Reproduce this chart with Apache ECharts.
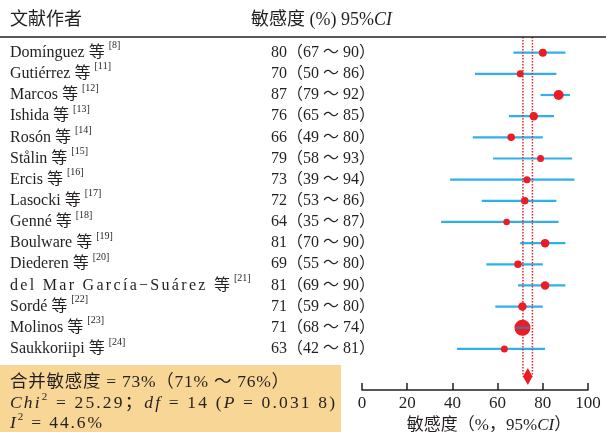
<!DOCTYPE html>
<html><head><meta charset="utf-8">
<script src="https://cdn.jsdelivr.net/npm/echarts@6/dist/echarts.min.js"></script>
<style>html,body{margin:0;padding:0;background:#fff}#c{width:606px;height:432px}</style>
</head><body><div id="c"></div>
<script>
// ---------------- data ----------------
const authors = ['Domínguez','Gutiérrez','Marcos','Ishida','Rosón','Stålin','Ercis','Lasocki','Genné','Boulware','Diederen','del Mar García−Suárez','Sordé','Molinos','Saukkoriipi'];
const refs = [8,11,12,13,14,15,16,17,18,19,20,21,22,23,24];
const sensitivity = [80,70,87,76,66,79,73,72,64,81,69,81,71,71,63];
const ciLow  = [67,50,79,65,49,58,39,53,35,70,55,69,59,68,42];
const ciHigh = [90,86,92,85,80,93,94,86,87,90,80,90,80,74,81];
const weights = [8,7,10,8.5,7.5,7,7,7.5,6.5,8.5,7.5,8.5,8.5,16,7];
const pooled = 73.4, pooledLow = 71.2, pooledHigh = 75.4;
const pooledLabel = ['73%', '71%', '76%'];
const chi2 = '25.29', df = '14', pValue = '0.031 8', i2 = '44.6%';
const xTicks = [0, 20, 40, 60, 80, 100];

// ---------------- styling helpers ----------------
const SERIF = '"Liberation Serif","Noto Sans CJK SC",serif';
const INK = '#231f20';
const ctx = document.createElement('canvas').getContext('2d');
function fontStr(s){ return (s.fontStyle||'normal')+' normal '+s.fontSize+'px '+s.fontFamily; }
let uid = 0;
// segs: [text, style, justify]
function richLine(segs, target){
  const chars = [];
  segs.forEach(([t, st, j]) => { for (const ch of t) chars.push([ch, st, !!j]); });
  const widths = chars.map(([ch, st]) => { ctx.font = fontStr(st); return ctx.measureText(ch).width; });
  let nat = 0, nj = 0, lastJ = -1;
  chars.forEach((c, k) => { if (c[2]) { nat += widths[k]; nj++; lastJ = k; } });
  const sp = (target && nj > 1) ? Math.max(0, (target - nat) / (nj - 1)) : 0;
  const rich = {}; let text = '';
  chars.forEach(([ch, st, j], k) => {
    const name = 't' + (uid++);
    rich[name] = Object.assign({}, st, { width: widths[k] + (j && k !== lastJ ? sp : 0) });
    text += '{' + name + '|' + ch + '}';
  });
  return { text, rich };
}
const N16 = { fontSize: 16, fontFamily: SERIF, fill: INK, lineHeight: 24 };
const S10 = { fontSize: 10, fontFamily: SERIF, fill: INK, lineHeight: 12, verticalAlign: 'top' };
const N17 = { fontSize: 17.5, fontFamily: SERIF, fill: INK, lineHeight: 22 };
const I17 = Object.assign({}, N17, { fontStyle: 'italic' });
const S11 = { fontSize: 11, fontFamily: SERIF, fill: INK, lineHeight: 12, verticalAlign: 'top' };

const nameRich = authors.map((a, i) => {
  if (a.length > 15) return richLine([[a + ' 等', N16, true], [' ', N16], ['[' + refs[i] + ']', S10]], 220);
  return richLine([[a + ' 等 ', N16], ['[' + refs[i] + ']', S10]]);
});
const numText = sensitivity.map((v, i) => v + '（' + ciLow[i] + ' ～ ' + ciHigh[i] + '）');

const line1 = richLine([['合并敏感度 = ' + pooledLabel[0] + '（' + pooledLabel[1] + ' ～ ' + pooledLabel[2] + '）', N17, true]], 279);
const line2 = richLine([['Chi', I17, true], ['2', S11, true], [' = ' + chi2 + '；', N17, true], ['df', I17, true], [' = ' + df + ' (', N17, true], ['P', I17, true], [' = ' + pValue + ')', N17, true]], 325);
const line3 = richLine([['I', I17, true], ['2', S11, true], [' = ' + i2, N17, true]], 92);
const head2 = richLine([['敏感度 (%) 95%', Object.assign({}, N17, {fontSize: 18})], ['CI', Object.assign({}, I17, {fontSize: 18})]]);

const Y_MIN = -0.74, Y_MAX = 15.94, POOLED_ROW = 15.3;
const ciData = ciLow.map((lo, i) => [lo, ciHigh[i], i, weights[i]]);
const ciRender = (color) => (p, api) => {
  const a = api.coord([api.value(0), api.value(2)]);
  const b = api.coord([api.value(1), api.value(2)]);
  return { type: 'line', shape: { x1: a[0], y1: a[1], x2: b[0], y2: b[1] },
    style: { stroke: color, lineWidth: 2.2 } };
};
const chart = echarts.init(document.getElementById('c'), null, { renderer: 'canvas' });
chart.setOption({
  animation: false,
  grid: { left: 362, right: 18, top: 37, bottom: 42, outerBoundsMode: 'none', containLabel: false },
  xAxis: {
    type: 'value', min: xTicks[0], max: xTicks[xTicks.length - 1], interval: 20,
    axisLine: { onZero: false, lineStyle: { color: INK, width: 1.5 } },
    axisTick: { inside: true, length: 7, lineStyle: { color: INK, width: 1.5 } },
    axisLabel: { margin: 5, fontSize: 17, fontFamily: SERIF, color: INK },
    splitLine: { show: false },
    name: '{a|敏感度（%，95%}{b|CI}{a|）}',
    nameLocation: 'middle', nameGap: 24,
    nameTextStyle: { padding: [0, 0, 0, 28], rich: { a: { fontSize: 17, fontFamily: SERIF, color: INK }, b: { fontSize: 17, fontFamily: SERIF, color: INK, fontStyle: 'italic' } } }
  },
  yAxis: { type: 'value', min: Y_MIN, max: Y_MAX, inverse: true, show: false },
  series: [
    { type: 'custom', z: 2, data: ciData, encode: { x: [0, 1], y: 2 }, renderItem: ciRender('#2eb0ea') },
    {
      type: 'scatter', z: 3,
      data: sensitivity.map((v, i) => [v, i, weights[i]]),
      symbolSize: d => d[2],
      itemStyle: { color: '#ed1c24', opacity: 1 }
    },
    { type: 'custom', z: 4, data: ciData.filter(d => d[3] > 12), encode: { x: [0, 1], y: 2 }, renderItem: ciRender('#4a6fa8') },
    {
      type: 'custom', z: 4, clip: false,
      data: [[pooledLow, pooledHigh, pooled]],
      encode: { x: [0, 1, 2] },
      renderItem: (p, api) => {
        const lo = api.value(0), hi = api.value(1), c = api.value(2);
        const t1 = api.coord([lo, Y_MIN]), b1 = api.coord([lo, POOLED_ROW]);
        const t2 = api.coord([hi, Y_MIN]), b2 = api.coord([hi, POOLED_ROW]);
        const m = api.coord([c, POOLED_ROW]);
        const dot = { stroke: '#e5262f', lineWidth: 1.5, lineDash: [1.5, 1.5] };
        return { type: 'group', children: [
          { type: 'line', shape: { x1: t1[0], y1: t1[1], x2: b1[0], y2: b1[1] }, style: dot },
          { type: 'line', shape: { x1: t2[0], y1: t2[1], x2: b2[0], y2: b2[1] }, style: dot },
          { type: 'polygon', shape: { points: [b1, [m[0], m[1] - 8.5], b2, [m[0], m[1] + 8.5]] }, style: { fill: '#ed1c24' } }
        ] };
      }
    },
    {
      type: 'custom', z: 5, clip: false, silent: true,
      data: sensitivity.map((v, i) => [v, i]),
      renderItem: (p, api) => {
        const i = p.dataIndex;
        const y = api.coord([0, api.value(1)])[1];
        return { type: 'group', children: [
          { type: 'text', x: 10, y: y, style: { text: nameRich[i].text, rich: nameRich[i].rich, fill: INK, align: 'left', verticalAlign: 'middle' } },
          { type: 'text', x: 271, y: y, style: { text: numText[i], fill: INK, fontSize: 16, fontFamily: SERIF, align: 'left', verticalAlign: 'middle' } }
        ] };
      }
    }
  ],
  graphic: [
    { type: 'line', shape: { x1: 0, y1: 37, x2: 606, y2: 37 }, style: { stroke: INK, lineWidth: 1.5 }, z: 10 },
    { type: 'text', x: 10, y: 20, style: { text: '文献作者', fill: INK, fontSize: 18, fontFamily: SERIF, verticalAlign: 'middle' } },
    { type: 'text', x: 251, y: 20, style: { text: head2.text, rich: head2.rich, fill: INK, verticalAlign: 'middle' } },
    { type: 'rect', shape: { x: 0, y: 365, width: 341, height: 67 }, style: { fill: '#f8d696' }, z: -1 },
    { type: 'text', x: 10, y: 382, style: { text: line1.text, rich: line1.rich, fill: INK, verticalAlign: 'middle' } },
    { type: 'text', x: 10, y: 403, style: { text: line2.text, rich: line2.rich, fill: INK, verticalAlign: 'middle' } },
    { type: 'text', x: 10, y: 423, style: { text: line3.text, rich: line3.rich, fill: INK, verticalAlign: 'middle' } }
  ]
});
</script></body></html>
